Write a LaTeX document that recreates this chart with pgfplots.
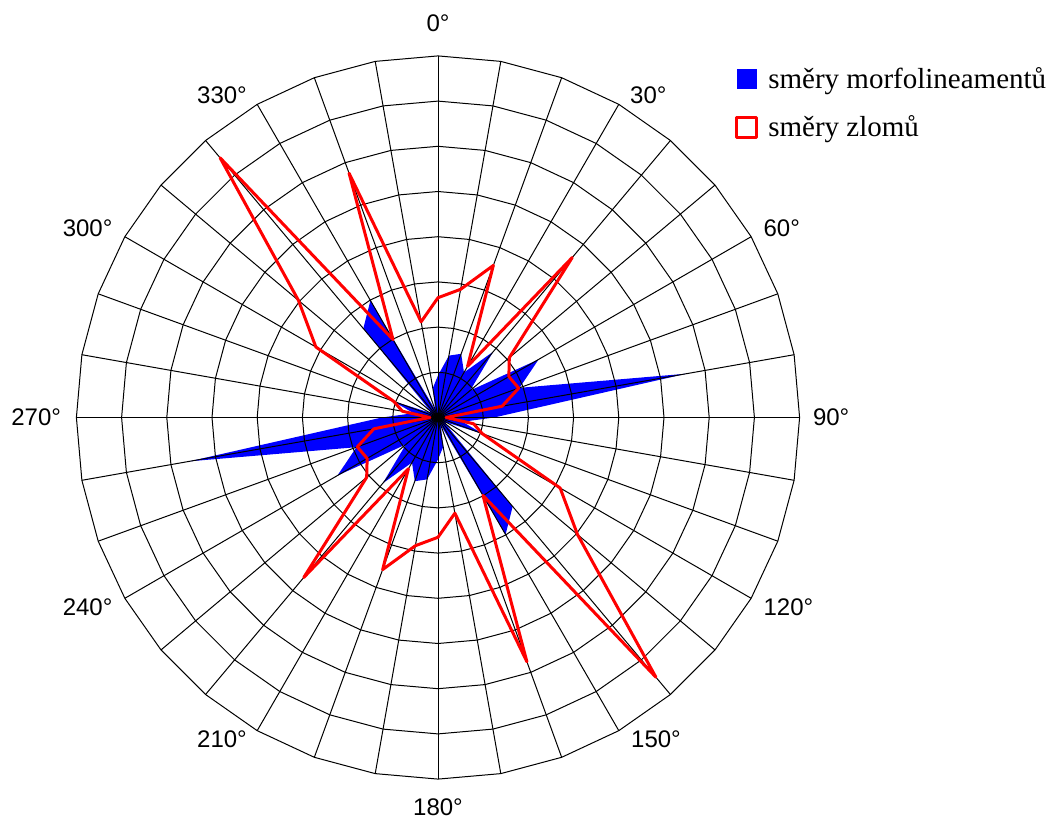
\documentclass[border=0pt]{standalone}
\usepackage{pgfplots}
\pgfplotsset{compat=1.18}
\usepackage{pgfplotstable}
\usepackage{fontspec}
\setmainfont{Liberation Serif}
\newfontfamily\arialfont{Liberation Sans}

% Rose diagram of directions (degrees clockwise from north).
% Lengths in units of one grid ring; axial data, so 180-350 repeats 0-170.
\pgfplotstableread{
dir  morfo  zlom
0    0.93   2.65
10   1.39   2.88
20   1.50   3.58
30   1.15   1.31
40   1.90   4.62
50   0.93   2.06
60   2.57   1.81
70   1.92   1.90
80   5.58   1.44
90   1.24   0.18
100  0.55   0.80
110  1.06   1.04
120  0.22   3.12
130  0.22   4.03
140  2.57   7.50
150  2.99   1.99
160  0.18   5.75
170  0.66   2.15
180  0.93   2.65
190  1.39   2.88
200  1.50   3.58
210  1.15   1.31
220  1.90   4.62
230  0.93   2.06
240  2.57   1.81
250  1.92   1.90
260  5.58   1.44
270  1.24   0.18
280  0.55   0.80
290  1.06   1.04
300  0.22   3.12
310  0.22   4.03
320  2.57   7.50
330  2.99   1.99
340  0.18   5.75
350  0.66   2.15
360  0.93   2.65
}\rosedata

\begin{document}
\begin{tikzpicture}
\useasboundingbox (-219pt,-200.75pt) rectangle (305pt,208.75pt);
\begin{axis}[
  at={(0,0)}, anchor=origin,
  x=22.6pt, y=22.6pt,
  xmin=-8, xmax=8, ymin=-8, ymax=8,
  hide axis, clip=false,
  legend style={draw=none, fill=none, at={(0.9106,0.985)}, anchor=north west,
    font=\fontsize{14.5}{17}\selectfont, inner sep=0pt,
    nodes={inner sep=0pt}, column sep=5pt, row sep=12.3pt},
  legend cell align=left,
  legend image code/.code={\path[#1] (0pt,-5pt) rectangle (10pt,5pt);},
  tick label style={font=\arialfont},
]
% filled series
\addplot[fill=blue, draw=none, data cs=polar]
  table[x expr={90-\thisrow{dir}}, y=morfo] {\rosedata} -- cycle;
\addlegendentry{směry morfolineamentů}

% polygonal rings and spokes
\pgfplotsinvokeforeach{1,...,8}{
  \addplot[black, line width=0.5pt, forget plot, data cs=polar]
    table[x expr={90-\thisrow{dir}}, y expr=#1] {\rosedata};
}
\pgfplotsinvokeforeach{0,10,...,350}{
  \addplot[black, line width=0.5pt, forget plot, data cs=polar]
    coordinates {(0,0) (#1,8)};
}

% line series
\addplot[draw=red, line width=1.5pt, line join=round, data cs=polar]
  table[x expr={90-\thisrow{dir}}, y=zlom] {\rosedata} -- cycle;
\addlegendentry{směry zlomů}

% direction labels
\begin{scope}[every node/.style={font=\arialfont\fontsize{12}{14}\selectfont, inner sep=0pt}]
\node[anchor=south, yshift=12pt] at (axis cs:0,8) {0°};
\node[anchor=south west, xshift=5.5pt] at (axis cs:{8*sin(30)},{8*cos(30)}) {30°};
\node[anchor=south west, xshift=6pt] at (axis cs:{8*sin(60)},{8*cos(60)}) {60°};
\node[anchor=west, xshift=6.5pt] at (axis cs:8,0) {90°};
\node[anchor=north west, xshift=6pt] at (axis cs:{8*sin(120)},{8*cos(120)}) {120°};
\node[anchor=north west, xshift=6pt] at (axis cs:{8*sin(150)},{8*cos(150)}) {150°};
\node[anchor=north, yshift=-9.5pt] at (axis cs:0,-8) {180°};
\node[anchor=north east, xshift=-5pt] at (axis cs:{8*sin(210)},{8*cos(210)}) {210°};
\node[anchor=north east, xshift=-6pt] at (axis cs:{8*sin(240)},{8*cos(240)}) {240°};
\node[anchor=east, xshift=-7.5pt] at (axis cs:-8,0) {270°};
\node[anchor=south east, xshift=-6pt] at (axis cs:{8*sin(300)},{8*cos(300)}) {300°};
\node[anchor=south east, xshift=-5pt] at (axis cs:{8*sin(330)},{8*cos(330)}) {330°};
\end{scope}
\end{axis}
\end{tikzpicture}
\end{document}
